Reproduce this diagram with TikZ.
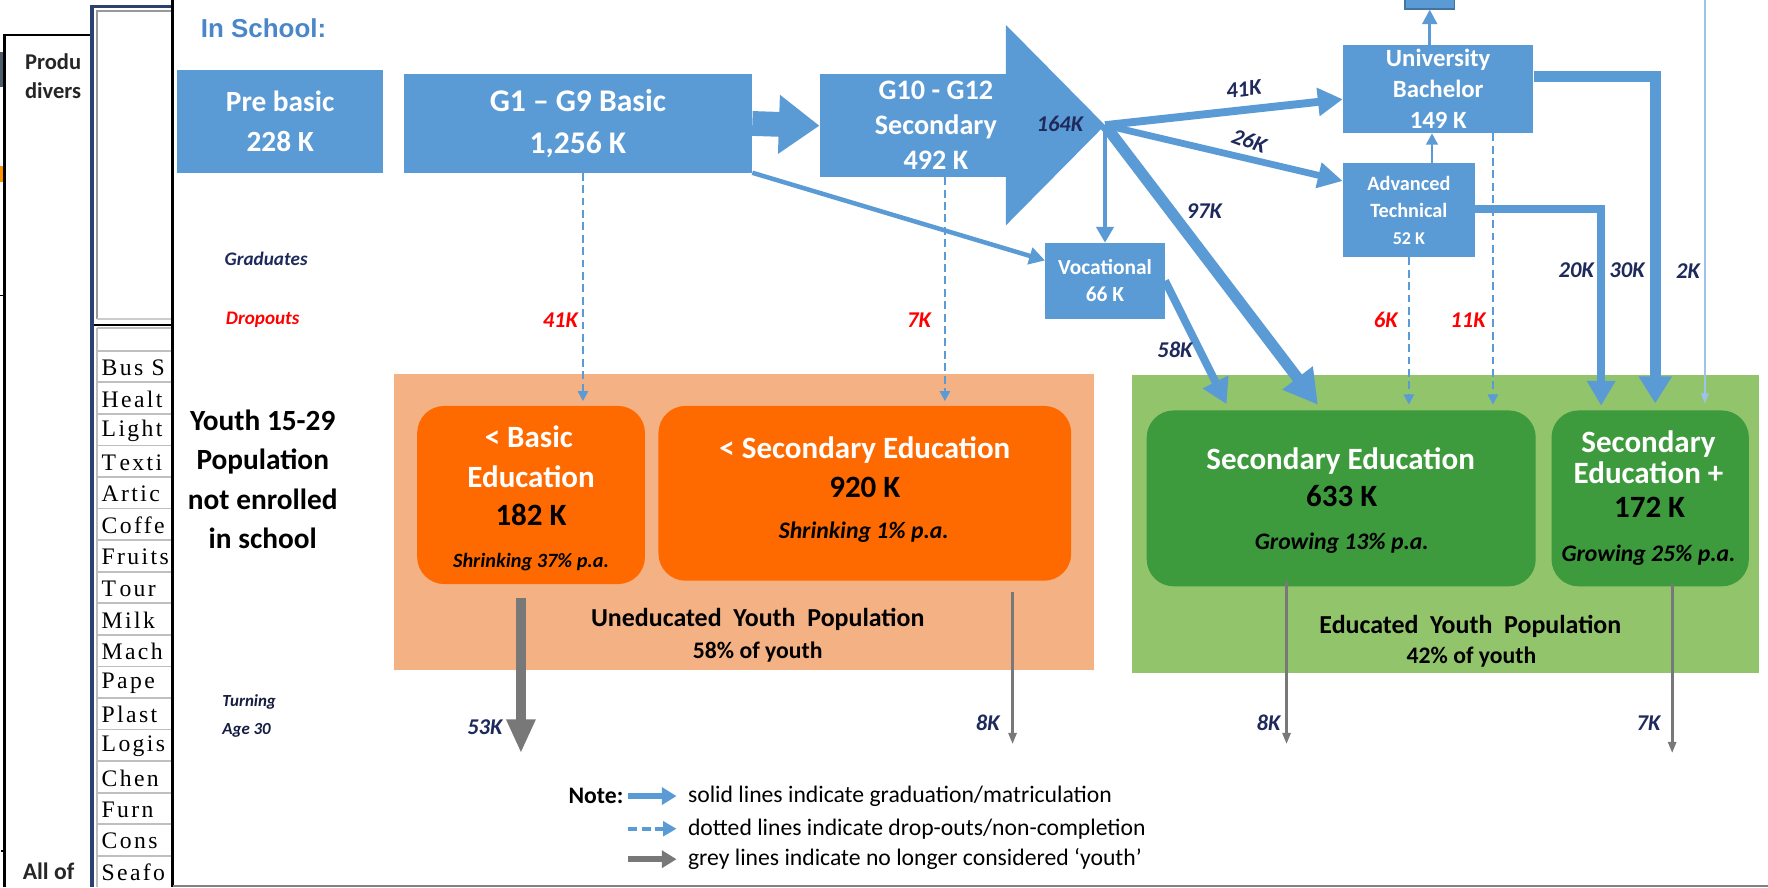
\documentclass[tikz,border=0pt]{standalone}
\usepackage{fontspec}
\setmainfont{Carlito}
\newfontfamily\tabserif[LetterSpace=10]{Liberation Serif}
\newfontfamily\headsans{Liberation Sans}
\usetikzlibrary{arrows.meta,calc}
\definecolor{boxblue}{HTML}{5B9BD5}
\definecolor{lblue}{HTML}{9DC3E6}
\definecolor{orng}{HTML}{FF6A00}
\definecolor{lorng}{HTML}{F4B183}
\definecolor{dgreen}{HTML}{3D9A3D}
\definecolor{lgreen}{HTML}{92C46C}
\definecolor{navy}{HTML}{1F2A5C}
\definecolor{greyar}{HTML}{787878}
\definecolor{schoolblue}{HTML}{4A86C8}
\definecolor{winnavy}{HTML}{2B4270}
\definecolor{slate}{HTML}{4E5D6C}
\definecolor{tabgrey}{HTML}{BFBFBF}
\tikzset{
  bx/.style={rectangle, fill=boxblue, text=white, align=center, inner sep=0pt},
  obox/.style={rectangle, rounded corners=24pt, fill=orng, inner sep=0pt},
  gbox/.style={rectangle, rounded corners=24pt, fill=dgreen, inner sep=0pt},
  tl/.style={anchor=base, inner sep=0pt},
  lab/.style={text=navy, font=\bfseries\itshape\fontsize{20}{22}\selectfont, inner sep=0pt},
  rlab/.style={lab, text=red},
  dashflow/.style={draw=boxblue, line width=2pt, dash pattern=on 7pt off 4pt, -{Triangle[length=9pt,width=9pt]}},
  rowtext/.style={anchor=west, inner sep=0pt, font=\tabserif\fontsize{21}{22}\selectfont},
}
\begin{document}
\begin{tikzpicture}[x=1pt,y=-1pt]
\useasboundingbox (0,0) rectangle (1568,787);
\fill[white] (0,0) rectangle (1568,787);

% ---- left windows (background clutter) ----
\fill[slate] (0,46) rectangle (3,77);
\fill[orange!85!yellow] (0,147) rectangle (3,161);
\draw[line width=1.5pt] (0,262) -- (4,262);
\fill[black] (1,754) rectangle (3,756);
\fill[white] (4,31) rectangle (153,787);
\draw[line width=2pt] (4,787) -- (4,31) -- (90,31);
\node[anchor=west, inner sep=0pt, font=\bfseries\fontsize{20}{22}\selectfont, text=black!85] (produ) at (22,55) {Produ};
\node[anchor=west, inner sep=0pt, font=\bfseries\fontsize{20}{22}\selectfont, text=black!85] (divers) at (22,80) {divers};
\node[anchor=west, inner sep=0pt, font=\bfseries\fontsize{21}{22}\selectfont, text=black!85] (allof) at (20,773) {All of};

\fill[white] (80,6) rectangle (153,787);
\draw[winnavy, line width=3pt] (81.5,787) -- (81.5,6) -- (153,6);
\draw[gray!80, line width=2pt] (86,283) -- (86,10) -- (153,10);
\draw[gray!40, line width=1.5pt] (86,283) -- (153,283);
\draw[line width=2pt] (83,288) -- (153,288);
\draw[tabgrey, line width=1.5pt] (86,291) -- (153,291);
\draw[tabgrey, line width=1.5pt] (86,291) -- (86,787);
\foreach \k in {0,...,16}{
  \draw[tabgrey, line width=1.5pt] (86,{311+28*\k}) -- (153,{311+28*\k});
}
\foreach \t [count=\i from 0] in {Bus S,Healt,Light,T\kern3pt exti,Artic,Coffe,Fruits,T\kern3pt our,Milk,Mach,Pape,Plast,Logis,Chen,Furn,Cons,Seafo}{
  \node[rowtext] (row\i) at (90,{326+28*\i}) {\t};
}

% ---- main window ----
\fill[white] (153,0) rectangle (1568,787);
\draw[line width=2pt] (153,0) -- (153,787);
\draw[gray, line width=1.5pt] (153,785.5) -- (1568,785.5);

\node[anchor=west, inner sep=0pt, text=schoolblue, font=\headsans\bfseries\fontsize{23}{28}\selectfont] (insch) at (178,25) {In School:};

% blue boxes
\node[bx, minimum width=183pt, minimum height=91pt, font=\bfseries\fontsize{26}{36}\selectfont] (pre) at (248.5,107.5) {Pre basic\\228 K};
\node[bx, minimum width=309pt, minimum height=87pt, font=\bfseries\fontsize{28}{37}\selectfont] (g1) at (512.5,109.5) {G1 -- G9 Basic\\1,256 K};
\node[bx, minimum width=166pt, minimum height=91pt] (g10) at (810,111.5) {};
\coordinate (tip) at (980,111);
\fill[boxblue] (892,22) -- (tip) -- (892,200) -- cycle;
\node[align=center, inner sep=0pt, text=white, font=\bfseries\fontsize{25}{31}\selectfont] (g10t) at (830,111) {G10 - G12\\Secondary\\492 K};
\node[bx, minimum width=169pt, minimum height=78pt, font=\bfseries\fontsize{22}{27.5}\selectfont] (ub) at (1275.5,79) {University\\Bachelor\\149 K};
\node[bx, minimum width=44pt, minimum height=9pt, draw=boxblue!75!black, line width=1pt] (pg) at (1268,3.5) {};
\node[bx, minimum width=117pt, minimum height=83pt, font=\bfseries\fontsize{18}{24}\selectfont] (at) at (1249.5,186.5) {Advanced\\Technical\\{\fontsize{16}{24}\selectfont 52 K}};
\node[bx, minimum width=106pt, minimum height=67pt, font=\bfseries\fontsize{19}{24}\selectfont] (voc) at (980,249) {Vocational\\66 K};

% background panels
\node[fill=lorng, minimum width=621pt, minimum height=262pt, inner sep=0pt] (unedu) at (659.5,463) {};
\node[fill=lgreen, minimum width=556pt, minimum height=264pt, inner sep=0pt] (edu) at (1282,465) {};

% orange / green boxes
\node[obox, minimum width=202pt, minimum height=158pt] (bb) at (471,439) {};
\node[obox, minimum width=366pt, minimum height=155pt] (sb) at (767,437.5) {};
\node[gbox, minimum width=345pt, minimum height=156pt] (se1) at (1189.5,442) {};
\node[gbox, minimum width=175pt, minimum height=156pt] (se2) at (1463.5,442) {};

\begin{scope}[font=\bfseries\fontsize{27.5}{30}\selectfont]
\node[tl, text=white] (bb1) at (469,397) {< Basic};
\node[tl, text=white] (bb2) at (471,432) {Education};
\node[tl, text=black] (bb3) at (471,466) {182 K};
\node[tl, text=white] (sb1) at (767,407) {< Secondary Education};
\node[tl, text=black] (sb2) at (767,441) {920 K};
\node[tl, text=white] (se11) at (1189,416) {Secondary Education};
\node[tl, text=black] (se12) at (1190,449) {633 K};
\node[tl, text=white] (se21) at (1462,401) {Secondary};
\node[tl, text=white] (se22) at (1462,429) {Education +};
\node[tl, text=black] (se23) at (1463,459) {172 K};
\end{scope}
\node[tl, font=\bfseries\itshape\fontsize{18}{20}\selectfont] (bb4) at (471,503) {Shrinking 37\% p.a.};
\node[tl, font=\bfseries\itshape\fontsize{21}{22}\selectfont] (sb3) at (766,478) {Shrinking 1\% p.a.};
\node[tl, font=\bfseries\itshape\fontsize{21}{22}\selectfont] (se13) at (1190,487) {Growing 13\% p.a.};
\node[tl, font=\bfseries\itshape\fontsize{21}{22}\selectfont] (se24) at (1462,498) {Growing 25\% p.a.};
\node[tl, font=\bfseries\fontsize{23}{26}\selectfont] (un1) at (672,556) {Uneducated\ \ Youth\ \ Population};
\node[tl, font=\bfseries\fontsize{21}{22}\selectfont] (un2) at (672,584) {58\% of youth};
\node[tl, font=\bfseries\fontsize{23}{26}\selectfont] (ed1) at (1304,562) {Educated\ \ Youth\ \ Population};
\node[tl, font=\bfseries\fontsize{21}{22}\selectfont] (ed2) at (1305,588) {42\% of youth};

% left labels
\node[inner sep=0pt, text=navy, font=\bfseries\itshape\fontsize{17}{18}\selectfont] (grad) at (236,230) {Graduates};
\node[inner sep=0pt, text=red, font=\bfseries\itshape\fontsize{17}{18}\selectfont] (drop) at (233,284) {Dropouts};
\node[align=center, inner sep=0pt, font=\bfseries\fontsize{26}{35}\selectfont] (youth) at (233,425) {Youth 15-29\\Population\\not enrolled\\in school};
\node[anchor=west, align=left, inner sep=0pt, text=navy!70!black, font=\bfseries\itshape\fontsize{15}{24}\selectfont] (turn) at (197,635) {Turning\\Age 30};

% ---- flows ----
\draw[boxblue, line width=22pt, -{Triangle[length=36pt,width=50pt]}] (g1.east) -- (g10.west);
\draw[boxblue, line width=4pt, -{Triangle[length=14pt,width=15pt]}] (g1.south east) -- ([yshift=18pt]voc.west);
\draw[boxblue, line width=4pt, -{Triangle[length=14pt,width=15pt]}] (tip) -- (voc.north);
\draw[boxblue, line width=7pt, -{Triangle[length=22pt,width=24pt]}] (tip) -- ([yshift=-9pt]ub.west);
\draw[boxblue, line width=6pt, -{Triangle[length=22pt,width=22pt]}] (tip) -- ([yshift=26pt]at.west);
\draw[boxblue, line width=10pt, -{Triangle[length=30pt,width=32pt]}, shorten >=6pt] (tip) -- ([xshift=-17pt]se1.north);
\draw[boxblue, line width=7pt, -{Triangle[length=22pt,width=24pt]}, shorten >=6pt] (voc.east) -- ([xshift=-99pt]se1.north);
\draw[boxblue, line width=3pt, -{Triangle[length=13pt,width=13pt]}] (ub.north -| pg.south) -- (pg.south);
\draw[boxblue, line width=2.5pt, -{Triangle[length=10pt,width=10pt]}] ([xshift=20.5pt]at.north) -- ([xshift=20.5pt]at.north |- ub.south);
\draw[boxblue, line width=10pt, -{Triangle[length=24pt,width=28pt]}, shorten >=6pt] ([yshift=11pt]ub.east) -| ([xshift=4.5pt]se2.north);
\draw[boxblue, line width=7pt, -{Triangle[length=22pt,width=24pt]}, shorten >=4pt] ([yshift=1pt]at.east) -| ([xshift=-43.5pt]se2.north);
\coordinate (src2k) at (1512,0);
\draw[lblue, line width=1.5pt, -{Triangle[length=9pt,width=7pt]}, shorten >=6pt] (src2k) -- (src2k |- se2.north);

% dropouts
\draw[dashflow, shorten >=4pt] ([xshift=4.5pt]g1.south) -- ([xshift=4.5pt]g1.south |- bb.north);
\draw[dashflow, shorten >=4pt] ([xshift=28pt]g10.south) -- ([xshift=28pt]g10.south |- sb.north);
\draw[dashflow, shorten >=5pt] (at.south) -- (at.south |- se1.north);
\draw[dashflow, shorten >=5pt] ([xshift=48.5pt]ub.south) -- ([xshift=48.5pt]ub.south |- se1.north);

% turning 30
\coordinate (e53) at (462,668);
\coordinate (e8a) at (898,660);
\coordinate (e8b) at (1141,660);
\coordinate (e7) at (1483,668);
\draw[greyar, line width=9pt, -{Triangle[length=30pt,width=24pt]}] ([xshift=-9pt,yshift=-12pt]bb.south) -- (e53);
\draw[greyar, line width=2.5pt, -{Triangle[length=10pt,width=7pt]}] ([xshift=131pt,yshift=-10pt]sb.south) -- (e8a);
\draw[greyar, line width=2.5pt, -{Triangle[length=10pt,width=7pt]}] ([xshift=-48.5pt,yshift=5pt]se1.south) -- (e8b);
\draw[greyar, line width=2.5pt, -{Triangle[length=10pt,width=7pt]}] ([xshift=19.5pt,yshift=2pt]se2.south) -- (e7);

% flow labels
\node[lab] (l164) at (940,110) {164K};
\node[lab, rotate=7] (l41) at (1103,79) {41K};
\node[lab, rotate=-20] (l26) at (1108,125) {26K};
\node[lab] (l97) at (1068,187) {97K};
\node[lab] (l58) at (1042,310) {58K};
\node[lab] (l20) at (1398,240) {20K};
\node[lab] (l30) at (1443,240) {30K};
\node[lab] (l2) at (1497,240) {2K};
\node[rlab] (l6) at (1229,284) {6K};
\node[rlab] (l11) at (1302,284) {11K};
\node[rlab] (l41d) at (497,284) {41K};
\node[rlab] (l7d) at (815,284) {7K};
\node[lab] (l53) at (430,645) {53K};
\node[lab] (l8a) at (876,641) {8K};
\node[lab] (l8b) at (1125,641) {8K};
\node[lab] (l7) at (1462,641) {7K};

% legend
\node[anchor=east, inner sep=0pt, font=\bfseries\fontsize{21}{22}\selectfont] (note) at (553,706) {Note:};
\coordinate (n1a) at (557,706); \coordinate (n1b) at (600,706);
\coordinate (n2a) at (557,735); \coordinate (n2b) at (600,735);
\coordinate (n3a) at (557,762); \coordinate (n3b) at (600,762);
\draw[boxblue, line width=5pt, -{Triangle[length=13pt,width=15pt]}] (n1a) -- (n1b);
\draw[boxblue, line width=4pt, dash pattern=on 8pt off 4pt, -{Triangle[length=12pt,width=13pt]}] (n2a) -- (n2b);
\draw[greyar, line width=5pt, -{Triangle[length=13pt,width=15pt]}] (n3a) -- (n3b);
\begin{scope}[font=\fontsize{21}{22}\selectfont]
\node[anchor=west, inner sep=0pt] (t1) at (610,706) {solid lines indicate graduation/matriculation};
\node[anchor=west, inner sep=0pt] (t2) at (610,735) {dotted lines indicate drop-outs/non-completion};
\node[anchor=west, inner sep=0pt] (t3) at (610,762) {grey lines indicate no longer considered ‘youth’};
\end{scope}
\end{tikzpicture}
\end{document}
